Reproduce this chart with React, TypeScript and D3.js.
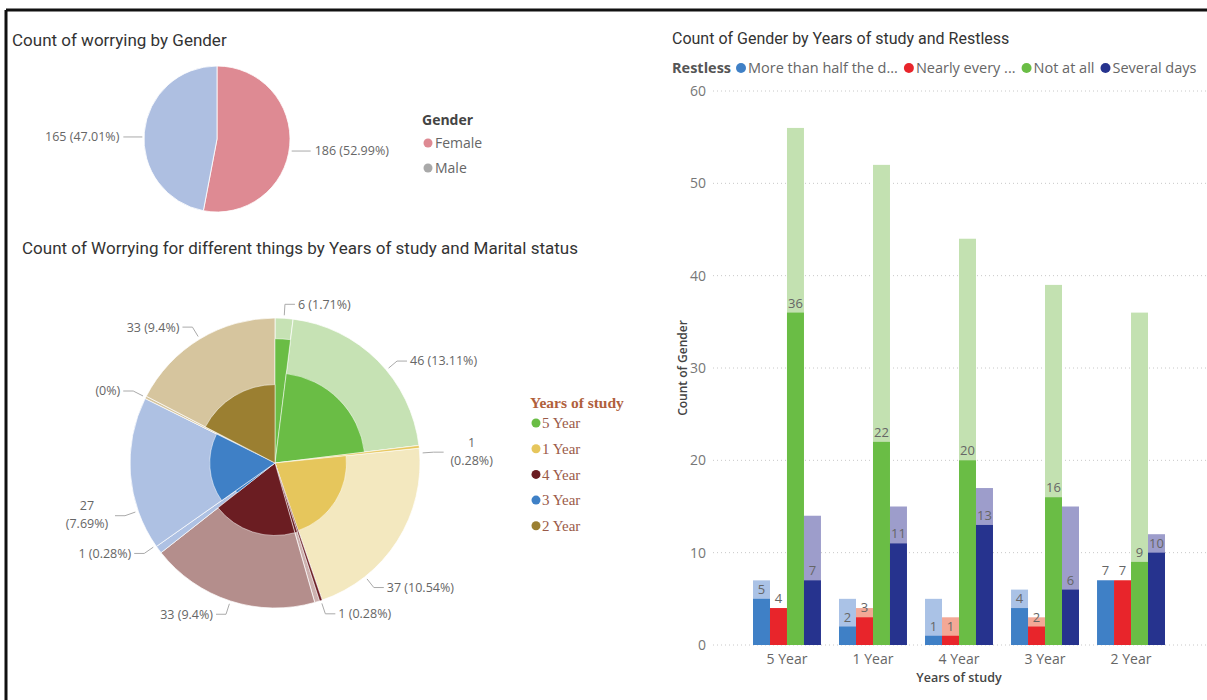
import React from 'react';
import * as d3 from 'd3';

// ---------- data ----------
const genderNames = ['Female', 'Male'];
const genderCounts = [186, 165];

const studyYears = ['5 Year', '1 Year', '4 Year', '3 Year', '2 Year'];

// outer ring of the year pie: one slice per (year, marital status)
const segYear = ['5 Year', '5 Year', '1 Year', '1 Year', '4 Year', '4 Year', '4 Year', '3 Year', '3 Year', '2 Year', '2 Year'];
const segStatus = ['Married', 'Single', 'Married', 'Single', 'Married', 'Divorced', 'Single', 'Married', 'Single', 'Married', 'Single'];
const segTotal = [7, 74, 1, 75, 1, 2, 66, 3, 60, 1, 61];
const segWorrying = [6, 46, 1, 37, 1, 1, 33, 1, 27, 0, 33];

const restlessLevels = ['More than half the days', 'Nearly every day', 'Not at all', 'Several days'];
const restlessLegend = ['More than half the d...', 'Nearly every ...', 'Not at all', 'Several days'];
// all respondents (light bars) and highlighted respondents (dark bars), per year
const restlessTotals = [
  [7, 5, 5, 6, 7],
  [4, 4, 3, 3, 7],
  [56, 52, 44, 39, 36],
  [14, 15, 17, 15, 12],
];
const restlessHighlighted = [
  [5, 2, 1, 4, 7],
  [4, 3, 1, 2, 7],
  [36, 22, 20, 16, 9],
  [7, 11, 13, 6, 10],
];
const countTicks = [0, 10, 20, 30, 40, 50, 60];

// ---------- styling ----------
const genderColors = ['#de8a93', '#aebfe1'];
const genderLegendColors = ['#de8a93', '#a9a9a9'];
const yearDark: Record<string, string> = {
  '5 Year': '#6abd45', '1 Year': '#e6c65c', '4 Year': '#6b1d22', '3 Year': '#3f80c6', '2 Year': '#9b7f31',
};
const yearLight: Record<string, string> = {
  '5 Year': '#c6e2b4', '1 Year': '#f3e8bf', '4 Year': '#b48e8c', '3 Year': '#aec1e3', '2 Year': '#d6c59e',
};
const stripLight: Record<string, string> = { Divorced: '#cdb1af' };
const restlessDark = ['#3f80c6', '#e8252b', '#6abd45', '#26338e'];
const restlessLight = ['#aac2e6', '#f3a896', '#c3e1b1', '#9d9dcb'];

// label layout for the year pie (angle nudge in degrees, wrapped, hidden)
const sunNudge = [0, 5, 2.5, 19, 0, 0, 0, 2, -15, 0, 0];
const sunWrap = [false, false, true, false, false, false, false, false, true, false, false];
const sunHidden = [false, false, false, false, false, true, false, false, false, false, false];

const SANS = "'Open Sans', 'Noto Sans', sans-serif";
const TITLE = "Roboto, 'Open Sans', sans-serif";
const SERIF = "'Liberation Serif', 'DejaVu Serif', serif";
const LABEL_SIZE = 12.5;

const fmtPct = (v: number, tot: number) => String(parseFloat(((v / tot) * 100).toFixed(2)));

let measureCtx: CanvasRenderingContext2D | null = null;
function textWidth(t: string, font: string) {
  if (!measureCtx) measureCtx = document.createElement('canvas').getContext('2d');
  if (!measureCtx) return t.length * 7;
  measureCtx.font = font;
  return measureCtx.measureText(t).width;
}

export default function App() {
  const W = 1207;
  const H = 700;

  // ----- gender pie -----
  const gCx = 217, gCy = 139, gR = 73;
  const gPie = d3.pie<number>().sort(null).value((d) => d)(genderCounts);
  const gArc = d3.arc<d3.PieArcDatum<number>>().innerRadius(0).outerRadius(gR);
  const gTotal = d3.sum(genderCounts);

  // ----- year / marital pie -----
  const sCx = 275, sCy = 463, sR = 145;
  const sTotal = d3.sum(segTotal);
  const sPie = d3.pie<number>().sort(null).value((d) => d)(segTotal);
  const lightArc = d3.arc<d3.PieArcDatum<number>>().innerRadius(0).outerRadius(sR);

  // ----- bar chart -----
  const x0 = d3.scaleBand<string>().domain(studyYears).range([753, 1165]).paddingInner(0.21);
  const x1 = d3.scaleBand<string>().domain(restlessLevels).range([0, x0.bandwidth()]);
  const y = d3.scaleLinear().domain([0, 60]).range([645, 91]);

  const legendFont = `14.5px ${SANS}`;
  let lx = 741;
  const legendItems = restlessLegend.map((t, i) => {
    const item = { cx: lx, tx: lx + 7, text: t, color: restlessDark[i] };
    lx += 7 + textWidth(t, legendFont) + 11;
    return item;
  });

  return (
    <svg width={W} height={H} style={{ position: 'absolute', left: 0, top: 0, background: '#fff' }}>
      <rect x={0} y={0} width={W} height={H} fill="#fff" />
      {/* frame */}
      <line x1={6} y1={10} x2={W} y2={10} stroke="#111" strokeWidth={3} />
      <line x1={6} y1={10} x2={6} y2={H} stroke="#111" strokeWidth={3} />

      {/* ===== Count of worrying by Gender ===== */}
      <text x={12} y={46} fontFamily={TITLE} fontSize={17} fill="#333">Count of worrying by Gender</text>
      <g transform={`translate(${gCx},${gCy})`}>
        {gPie.map((d, i) => (
          <path key={i} d={gArc(d) || ''} fill={genderColors[i]} stroke="#fff" strokeWidth={0.8} />
        ))}
        {gPie.map((d, i) => {
          const a = (d.startAngle + d.endAngle) / 2;
          const px = Math.sin(a) * (gR + 2);
          const py = -Math.cos(a) * (gR + 2) + 5;
          const dir = Math.sin(a) >= 0 ? 1 : -1;
          const ex = px + dir * 19;
          return (
            <g key={'gl' + i}>
              <line x1={px} y1={py} x2={ex} y2={py} stroke="#aaa" strokeWidth={1} />
              <text x={ex + dir * 4} y={py} dy="0.35em" textAnchor={dir > 0 ? 'start' : 'end'}
                fontFamily={SANS} fontSize={LABEL_SIZE} fill="#666">
                {`${d.data} (${fmtPct(d.data, gTotal)}%)`}
              </text>
            </g>
          );
        })}
      </g>
      <text x={422} y={125} fontFamily={SANS} fontSize={14} fontWeight={700} fill="#444">Gender</text>
      {genderNames.map((n, i) => (
        <g key={n}>
          <circle cx={428} cy={143 + i * 25} r={4.5} fill={genderLegendColors[i]} />
          <text x={435} y={143 + i * 25} dy="0.35em" fontFamily={SANS} fontSize={14} fill="#666">{n}</text>
        </g>
      ))}

      {/* ===== Worrying by Years of study and Marital status ===== */}
      <text x={22} y={254} fontFamily={TITLE} fontSize={17} fill="#333">
        Count of Worrying for different things by Years of study and Marital status
      </text>
      <g transform={`translate(${sCx},${sCy})`}>
        {sPie.map((d, i) => (
          <path key={'l' + i} d={lightArc(d) || ''}
            fill={stripLight[segStatus[i]] || yearLight[segYear[i]]} stroke="#fff" strokeWidth={0.7} />
        ))}
        {sPie.map((d, i) => {
          const r = (sR * segWorrying[i]) / segTotal[i];
          if (r <= 0) return null;
          const darkArc = d3.arc<d3.PieArcDatum<number>>().innerRadius(0).outerRadius(r);
          return <path key={'d' + i} d={darkArc(d) || ''} fill={yearDark[segYear[i]]} stroke="#fff" strokeWidth={0.5} />;
        })}
        {sPie.map((d, i) => {
          if (sunHidden[i]) return null;
          const a = (d.startAngle + d.endAngle) / 2 + (sunNudge[i] * Math.PI) / 180;
          const p0 = [Math.sin(a) * (sR + 3), -Math.cos(a) * (sR + 3)];
          const p1 = [Math.sin(a) * (sR + 14), -Math.cos(a) * (sR + 14)];
          const dir = Math.sin(a) >= 0 ? 1 : -1;
          const p2 = [p1[0] + dir * 10, p1[1]];
          const v = segWorrying[i];
          const pct = `(${fmtPct(v, sTotal)}%)`;
          const full = v > 0 ? `${v} ${pct}` : pct;
          const lines = sunWrap[i] ? [String(v), pct] : [full];
          return (
            <g key={'t' + i}>
              <polyline points={[p0, p1, p2].map((p) => p.join(',')).join(' ')} fill="none" stroke="#aaa" strokeWidth={1} />
              {lines.length === 1 ? (
                <text x={p2[0] + dir * 3} y={p2[1]} dy="0.35em" textAnchor={dir > 0 ? 'start' : 'end'}
                  fontFamily={SANS} fontSize={LABEL_SIZE} fill="#666">{full}</text>
              ) : (
                lines.map((ln, k) => (
                  <text key={k} x={p2[0] + dir * 28} y={p2[1] + (k === 0 ? -10 : 8)} dy="0.35em" textAnchor="middle"
                    fontFamily={SANS} fontSize={LABEL_SIZE} fill="#666">{ln}</text>
                ))
              )}
            </g>
          );
        })}
      </g>
      <text x={530} y={408} fontFamily={SERIF} fontSize={15.5} fontWeight={700} fill="#b0603c">Years of study</text>
      {studyYears.map((yr, i) => (
        <g key={yr}>
          <circle cx={536} cy={423 + i * 25.7} r={4.5} fill={yearDark[yr]} />
          <text x={542} y={423 + i * 25.7} dy="0.35em" fontFamily={SERIF} fontSize={15} fill="#9a5a48">{yr}</text>
        </g>
      ))}

      {/* ===== Count of Gender by Years of study and Restless ===== */}
      <text x={672} y={44} fontFamily={TITLE} fontSize={16} fill="#333">
        Count of Gender by Years of study and Restless
      </text>
      <text x={672} y={68} dy="0.35em" fontFamily={SANS} fontSize={14.5} fontWeight={700} fill="#555">Restless</text>
      {legendItems.map((it) => (
        <g key={it.text}>
          <circle cx={it.cx} cy={68} r={5} fill={it.color} />
          <text x={it.tx} y={68} dy="0.35em" fontFamily={SANS} fontSize={14.5} fill="#666">{it.text}</text>
        </g>
      ))}

      {countTicks.map((t) => (
        <g key={t}>
          <line x1={713} x2={W} y1={y(t)} y2={y(t)} stroke="#c8c8c8" strokeWidth={1} strokeDasharray="1,3" />
          <text x={706} y={y(t)} dy="0.35em" textAnchor="end" fontFamily={SANS} fontSize={14} fill="#777">{t}</text>
        </g>
      ))}
      <text transform={`translate(683,${y(30)}) rotate(-90)`} textAnchor="middle" dy="0.35em"
        fontFamily={SANS} fontSize={12} fontWeight={600} fill="#444">Count of Gender</text>

      {studyYears.map((yr, j) => (
        <g key={yr} transform={`translate(${x0(yr)},0)`}>
          {restlessLevels.map((lv, i) => (
            <rect key={'lt' + lv} x={x1(lv)} width={x1.bandwidth()} y={y(restlessTotals[i][j])}
              height={y(0) - y(restlessTotals[i][j])} fill={restlessLight[i]} />
          ))}
          {restlessLevels.map((lv, i) => (
            <rect key={'dk' + lv} x={x1(lv)} width={x1.bandwidth()} y={y(restlessHighlighted[i][j])}
              height={y(0) - y(restlessHighlighted[i][j])} fill={restlessDark[i]} />
          ))}
          {restlessLevels.map((lv, i) => (
            <text key={'lb' + lv} x={(x1(lv) || 0) + x1.bandwidth() / 2} y={y(restlessHighlighted[i][j]) - 5}
              textAnchor="middle" fontFamily={SANS} fontSize={13} fill="#666">{restlessHighlighted[i][j]}</text>
          ))}
          <text x={x0.bandwidth() / 2} y={659} dy="0.35em" textAnchor="middle" fontFamily={SANS} fontSize={14} fill="#666">{yr}</text>
        </g>
      ))}
      <text x={(753 + 1165) / 2} y={678} dy="0.35em" textAnchor="middle" fontFamily={SANS} fontSize={12.5}
        fontWeight={600} fill="#444">Years of study</text>
    </svg>
  );
}
